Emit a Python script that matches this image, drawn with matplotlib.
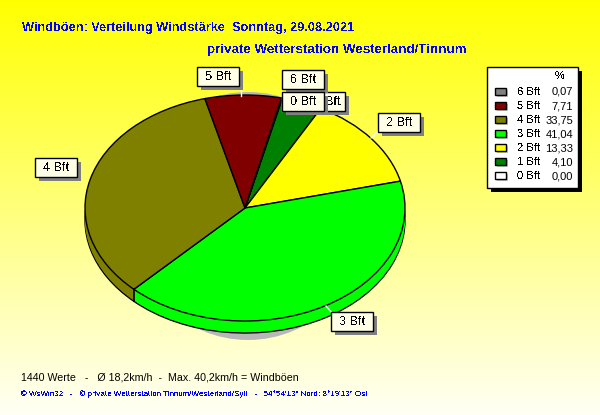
import numpy as np
import matplotlib
matplotlib.use('Agg')
import matplotlib.pyplot as plt
from matplotlib.patches import Ellipse, Rectangle

plt.rcParams['font.family'] = ['Liberation Sans', 'DejaVu Sans']
plt.rcParams['text.antialiased'] = False

title = 'Windböen: Verteilung Windstärke  Sonntag, 29.08.2021'
subtitle = 'private Wetterstation Westerland/Tinnum'
footer = '1440 Werte   -   Ø 18,2km/h  -  Max. 40,2km/h = Windböen'
credit = '© WsWin32   -   © private Wetterstation Tinnum/Westerland/Sylt   -   54°54\'13" Nord; 8°19\'13" Ost'

# clockwise order, starting at the 0 Bft slice
classes = ['0 Bft', '1 Bft', '2 Bft', '3 Bft', '4 Bft', '5 Bft', '6 Bft']
shares = [0.00, 4.10, 13.33, 41.04, 33.75, 7.71, 0.07]
colors = ['#ffffff', '#008000', '#ffff00', '#00ff00', '#808000', '#800000', '#808080']

# pie geometry in pixels
cx, cy, rx, ry = 245, 208, 160, 113
depth = 12
start_angle = 76.5

fig = plt.figure(figsize=(6, 4.15), dpi=100)

# background gradient
bg = fig.add_axes([0, 0, 1, 1])
grad = np.ones((256, 1, 3))
grad[:, 0, 2] = np.linspace(0, 0.96, 256)
bg.imshow(grad, aspect='auto', extent=(0, 1, 0, 1))
bg.axis('off')

# the pie gets its own axes, squashed to an ellipse
top_px, bottom_px = 80, 350
ax = fig.add_axes([(cx - rx) / 600, 1 - bottom_px / 415, 2 * rx / 600, (bottom_px - top_px) / 415])
ax.patch.set_alpha(0)

dy = depth / ry
ax.add_patch(Ellipse((3 / rx, -8 / ry), 2 * 120 / rx, 2 * 124 / ry, color='#b8b8b8', lw=0, zorder=0))

# side of the disc: stacked copies, outline only on the lowest one
for i in range(depth, 0, -1):
    lw = 1 if i == depth else 0
    ax.pie(shares, colors=colors, startangle=start_angle, counterclock=False,
           center=(0, -i / ry), wedgeprops={'edgecolor': 'black', 'linewidth': lw})

# top face
ax.pie(shares, colors=colors, startangle=start_angle, counterclock=False,
       wedgeprops={'edgecolor': 'black', 'linewidth': 1})

# vertical edge where 3 Bft meets 4 Bft
edge = np.radians(start_angle - 3.6 * sum(shares[:4]))
ax.plot([np.cos(edge)] * 2, [np.sin(edge), np.sin(edge) - dy], color='black', lw=1.2, zorder=5)

ax.set_aspect('auto')
ax.set_xlim(-1, 1)
ax.set_ylim((cy - bottom_px) / ry, (cy - top_px) / ry)
ax.axis('off')

# overlay in pixel coordinates for the texts, labels and legend
ov = fig.add_axes([0, 0, 1, 1])
ov.set_xlim(0, 600)
ov.set_ylim(415, 0)
ov.axis('off')
ov.patch.set_alpha(0)

ov.text(22, 28, title, color='#0000ff', fontsize=9.2, fontweight='bold', va='center')
ov.text(207, 50, subtitle, color='#0000ff', fontsize=9.65, fontweight='bold', va='center')
ov.text(21, 377, footer, color='black', fontsize=7.7, va='center', antialiased=True)
ov.text(21, 394.5, credit, color='#0000ff', fontsize=5.8, va='center')

# leader lines
leaders = [((241, 86), (241, 96)), ((378, 131), (371, 138)), ((326, 306), (332, 313)), ((282, 95), (282, 111))]
for (x0, y0), (x1, y1) in leaders:
    ov.plot([x0, x1], [y0, y1], color='white', lw=1, zorder=3)

# slice labels, drawn in this order so 0 Bft covers 1 Bft
boxes = {'1 Bft': (303, 92), '6 Bft': (282, 70), '0 Bft': (282, 92), '5 Bft': (197, 67),
         '2 Bft': (378, 113), '4 Bft': (35, 158), '3 Bft': (331, 312)}
for n, (name, (x, y)) in enumerate(boxes.items()):
    z = 4 + n
    ov.add_patch(Rectangle((x + 4, y + 4), 42, 19, color='#808080', lw=0, zorder=z))
    ov.add_patch(Rectangle((x, y), 42, 19, facecolor='#ffffe8', edgecolor='black', lw=1, zorder=z))
    # the 1 Bft box is mostly covered, keep only its visible end
    label = 'Bft' if name == '1 Bft' else name
    lx = x + 30 if name == '1 Bft' else x + 21
    ov.text(lx, y + 10, label, fontsize=9.2, ha='center', va='center', zorder=z)

# legend
ov.add_patch(Rectangle((491, 71), 91, 121, color='black', lw=0, zorder=3))
ov.add_patch(Rectangle((487, 67), 91, 121, facecolor='white', edgecolor='black', lw=1, zorder=4))
ov.text(560, 76, '%', fontsize=8, ha='center', va='center', zorder=5)
for i, name in enumerate(classes[::-1]):
    share = shares[::-1][i]
    y = 92 + i * 14
    ov.add_patch(Rectangle((497, y - 2), 11, 7, color='#c0c0c0', lw=0, zorder=5))
    ov.add_patch(Rectangle((494.5, y - 4), 11, 7, facecolor=colors[::-1][i], edgecolor='black', lw=1, zorder=6))
    ov.text(517, y, name, fontsize=8, va='center', zorder=5)
    ov.text(573, y, f'{share:.2f}'.replace('.', ','), fontsize=8, ha='right', va='center', zorder=5, antialiased=True)

fig.savefig('out.png', dpi=100)
